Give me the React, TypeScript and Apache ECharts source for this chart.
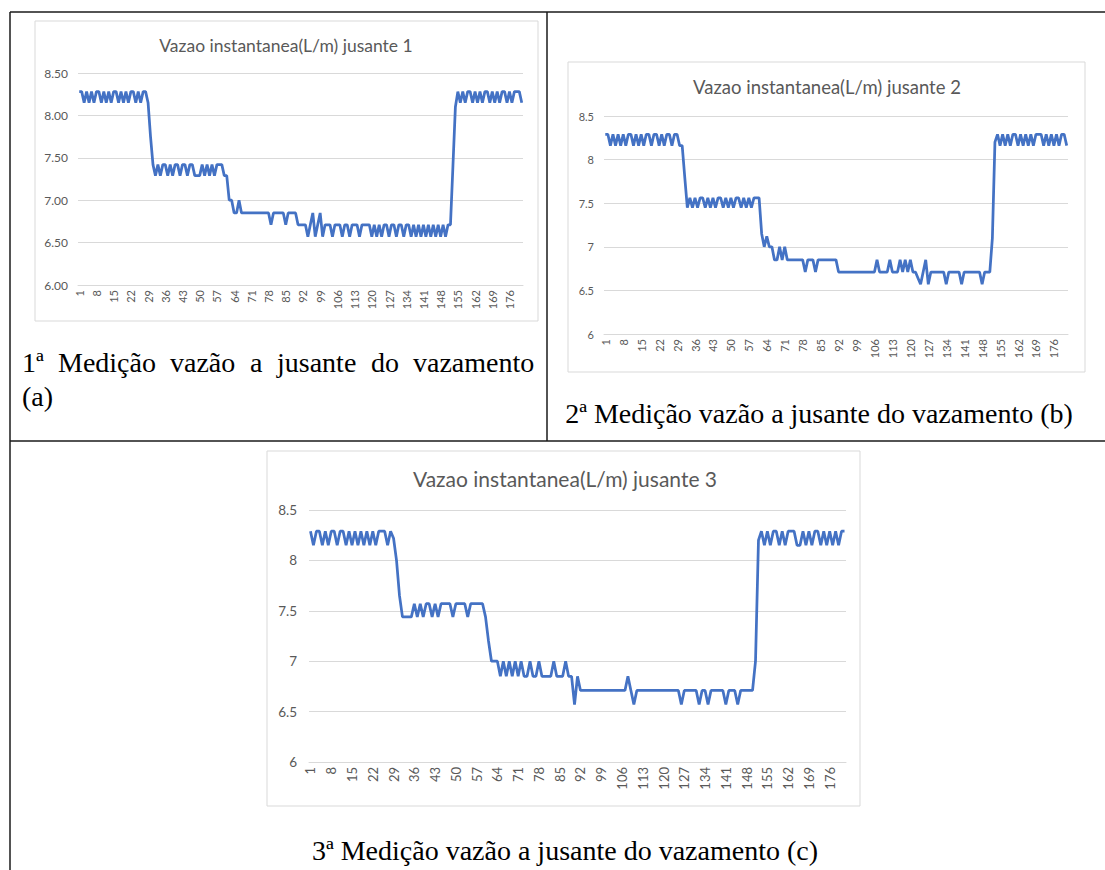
import React, { useEffect, useRef } from "react";
import * as echarts from "echarts";

// ---------- data ----------
const categories: string[] = Array.from({ length: 181 }, (_, i) => String(i + 1));

const yMin = 6;
const yMax = 8.5;
const yStep = 0.5;

const titles = [
  "Vazao instantanea(L/m) jusante 1",
  "Vazao instantanea(L/m) jusante 2",
  "Vazao instantanea(L/m) jusante 3",
];

const jusante1: number[] = [
  8.28, 8.28, 8.15, 8.28, 8.15, 8.28, 8.15, 8.28, 8.28, 8.15,
  8.28, 8.15, 8.28, 8.15, 8.28, 8.28, 8.15, 8.28, 8.15, 8.28,
  8.15, 8.28, 8.28, 8.15, 8.28, 8.15, 8.28, 8.28,
  8.15, 7.75, 7.42,
  7.29, 7.42, 7.29, 7.42, 7.42, 7.29, 7.42, 7.29, 7.42, 7.42,
  7.29, 7.42, 7.42, 7.29, 7.42, 7.42, 7.29, 7.29, 7.29, 7.42,
  7.29, 7.42, 7.29, 7.42, 7.29, 7.42, 7.42,
  7.42, 7.29, 7.29, 7.0, 7.0, 6.85, 6.85, 7.0, 6.85,
  6.85, 6.85, 6.85, 6.85, 6.85, 6.85, 6.85, 6.85, 6.85, 6.85, 6.85,
  6.71, 6.85, 6.85, 6.85, 6.85, 6.85, 6.71, 6.85, 6.85, 6.85, 6.85,
  6.71, 6.71, 6.71, 6.71, 6.57, 6.71, 6.85, 6.57, 6.71, 6.85, 6.57,
  6.71, 6.71, 6.71, 6.57, 6.71, 6.71, 6.71, 6.57, 6.71, 6.71,
  6.57, 6.71, 6.71, 6.71, 6.57, 6.71, 6.71, 6.71, 6.71, 6.57,
  6.71, 6.57, 6.71, 6.57, 6.71, 6.71, 6.57, 6.71, 6.71, 6.57,
  6.71, 6.71, 6.57, 6.71, 6.71, 6.57, 6.71, 6.57, 6.71, 6.57,
  6.71, 6.57, 6.71, 6.57, 6.71, 6.57, 6.71, 6.57, 6.71, 6.57,
  6.71, 6.71, 7.4, 8.1,
  8.28, 8.15, 8.28, 8.15, 8.28, 8.28, 8.15, 8.28, 8.15, 8.28,
  8.15, 8.28, 8.28, 8.15, 8.28, 8.15, 8.28, 8.15, 8.28, 8.28,
  8.15, 8.28, 8.15, 8.28, 8.28, 8.28, 8.15,
];

const jusante2: number[] = [
  8.29, 8.29, 8.16, 8.29, 8.16, 8.29, 8.16, 8.29, 8.16, 8.29,
  8.29, 8.16, 8.29, 8.16, 8.29, 8.16, 8.29, 8.29, 8.16, 8.29,
  8.29, 8.16, 8.29, 8.16, 8.29, 8.29, 8.16, 8.29, 8.29,
  8.16, 8.16, 7.8, 7.45,
  7.56, 7.45, 7.56, 7.45, 7.56, 7.56, 7.45, 7.56, 7.45, 7.56,
  7.45, 7.56, 7.56, 7.45, 7.56, 7.45, 7.56, 7.45, 7.56, 7.56,
  7.45, 7.56, 7.45, 7.56, 7.45, 7.56, 7.56,
  7.56, 7.15, 7.0, 7.12, 7.0, 7.0, 6.85, 6.85, 7.0, 6.85, 7.0, 6.85,
  6.85, 6.85, 6.85, 6.85, 6.85, 6.85,
  6.71, 6.85, 6.85, 6.85, 6.71,
  6.85, 6.85, 6.85, 6.85, 6.85, 6.85, 6.85, 6.85,
  6.71, 6.71, 6.71, 6.71, 6.71, 6.71, 6.71, 6.71, 6.71, 6.71,
  6.71, 6.71, 6.71, 6.71, 6.71,
  6.85, 6.71, 6.71, 6.71, 6.71, 6.85, 6.71, 6.71, 6.71, 6.85,
  6.71, 6.85, 6.71, 6.85, 6.71, 6.71, 6.64, 6.57, 6.71, 6.85,
  6.57, 6.71,
  6.71, 6.71, 6.71, 6.71, 6.71, 6.57,
  6.71, 6.71, 6.71, 6.71, 6.71, 6.57,
  6.71, 6.71, 6.71, 6.71, 6.71, 6.71, 6.71, 6.57,
  6.71, 6.71, 6.71, 7.1, 8.2, 8.29,
  8.16, 8.29, 8.16, 8.29, 8.16, 8.29, 8.29, 8.16, 8.29, 8.16,
  8.29, 8.16, 8.29, 8.16, 8.29, 8.29, 8.29, 8.16, 8.29, 8.16,
  8.29, 8.16, 8.29, 8.16, 8.29, 8.29, 8.16,
];

const jusante3: number[] = [
  8.29, 8.15, 8.29, 8.29, 8.15, 8.29, 8.15, 8.29, 8.29, 8.15,
  8.29, 8.29, 8.15, 8.29, 8.15, 8.29, 8.15, 8.29, 8.15, 8.29,
  8.15, 8.29, 8.15, 8.29, 8.29, 8.29, 8.15, 8.29,
  8.22, 8.0, 7.65, 7.44,
  7.44, 7.44, 7.44,
  7.57, 7.44, 7.57, 7.44, 7.57, 7.57, 7.44, 7.57, 7.44, 7.57,
  7.57, 7.57, 7.57, 7.44, 7.57, 7.57, 7.57, 7.57, 7.44, 7.57,
  7.57, 7.57, 7.57,
  7.57, 7.44, 7.2, 7.0, 7.0, 7.0,
  6.85, 7.0, 6.85, 7.0, 6.85, 7.0, 6.85, 7.0, 6.85, 6.85,
  7.0, 6.85, 6.85, 7.0, 6.85, 6.85, 6.85, 6.85, 7.0, 6.85,
  6.85, 6.85, 7.0, 6.85, 6.85,
  6.57, 6.85,
  6.71, 6.71, 6.71, 6.71, 6.71, 6.71, 6.71, 6.71, 6.71, 6.71,
  6.71, 6.71, 6.71, 6.71, 6.71, 6.71,
  6.85, 6.71, 6.57, 6.71,
  6.71, 6.71, 6.71, 6.71, 6.71, 6.71, 6.71, 6.71, 6.71, 6.71,
  6.71, 6.71, 6.71, 6.71,
  6.57, 6.71, 6.71, 6.71, 6.71, 6.71, 6.57, 6.71, 6.71, 6.57,
  6.71, 6.71, 6.71, 6.71, 6.71, 6.57, 6.71, 6.71, 6.71, 6.57,
  6.71, 6.71, 6.71, 6.71, 6.71,
  7.0, 8.2, 8.29,
  8.15, 8.29, 8.15, 8.29, 8.29, 8.15, 8.29, 8.15, 8.29, 8.29,
  8.29, 8.15, 8.15, 8.29, 8.15, 8.29, 8.15, 8.29, 8.29, 8.15,
  8.29, 8.15, 8.29, 8.15, 8.29, 8.15, 8.29, 8.29,
];

const seriesData = [jusante1, jusante2, jusante3];

// ---------- layout ----------
const FONT = "Lato, 'Open Sans', sans-serif";
const SERIF = "'Liberation Serif', 'DejaVu Serif', serif";
const GRAY = "#595959";
const GRID_COLOR = "#d9d9d9";
const LINE_COLOR = "#4472C4";

const grids = [
  { left: 78, top: 73, width: 445, height: 212 },
  { left: 604, top: 116, width: 464, height: 218 },
  { left: 309, top: 510, width: 537, height: 252 },
];
const boxes = [
  { x: 35, y: 21, width: 503, height: 300 },
  { x: 568, y: 62, width: 517, height: 310 },
  { x: 267, y: 451, width: 593, height: 355 },
];
const titlePos = [
  { x: 286, y: 45, size: 17.5 },
  { x: 827, y: 87, size: 18.5 },
  { x: 565, y: 478, size: 21 },
];
const xLabelSize = [11, 11, 13];
const yLabelSize = [12, 11, 13.5];
const yLabelMargin = [10, 10, 12];

export default function App() {
  const ref = useRef<HTMLDivElement>(null);

  useEffect(() => {
    if (!ref.current) return;
    const chart = echarts.init(ref.current, undefined, { renderer: "svg" });

    const graphics: any[] = [];
    boxes.forEach((b) => {
      graphics.push({
        type: "rect",
        z: -100,
        shape: { x: b.x, y: b.y, width: b.width, height: b.height },
        style: { fill: "#ffffff", stroke: GRID_COLOR, lineWidth: 1 },
      });
    });
    titlePos.forEach((t, i) => {
      graphics.push({
        type: "text",
        x: t.x,
        y: t.y,
        style: {
          text: titles[i],
          font: `${t.size}px ${FONT}`,
          fill: GRAY,
          align: "center",
          verticalAlign: "middle",
          textAlign: "center",
          textVerticalAlign: "middle",
        },
      });
    });
    const lines = [
      [10, 12, 1105, 12],
      [10, 12, 10, 870],
      [547, 12, 547, 441],
      [10, 441, 1105, 441],
    ];
    lines.forEach((l) => {
      graphics.push({
        type: "line",
        shape: { x1: l[0], y1: l[1], x2: l[2], y2: l[3] },
        style: { stroke: "#1a1a1a", lineWidth: 1.5 },
      });
    });
    const cap = (text: string, x: number, y: number, align = "left") => ({
      type: "text",
      x,
      y,
      style: {
        text,
        font: `28px ${SERIF}`,
        fill: "#000",
        align,
        verticalAlign: "middle",
        textAlign: align,
        textVerticalAlign: "middle",
      },
    });
    const cap1Words = ["1ª", "Medição", "vazão", "a", "jusante", "do", "vazamento"];
    const cap1X = [22, 58, 170, 250, 277, 371, 413];
    cap1Words.forEach((w, i) => graphics.push(cap(w, cap1X[i], 362)));
    graphics.push(cap("(a)", 22, 396));
    graphics.push(cap("2ª Medição vazão a jusante do vazamento (b)", 819, 413, "center"));
    graphics.push(cap("3ª Medição vazão a jusante do vazamento (c)", 565, 850, "center"));

    const option: any = {
      animation: false,
      backgroundColor: "#ffffff",
      grid: grids.map((g) => ({ ...g, containLabel: false })),
      xAxis: grids.map((_, i) => ({
        type: "category",
        gridIndex: i,
        data: categories,
        boundaryGap: true,
        axisLine: { show: true, lineStyle: { color: GRID_COLOR } },
        axisTick: { show: false },
        axisLabel: {
          interval: 6,
          rotate: 90,
          fontSize: xLabelSize[i],
          color: GRAY,
          fontFamily: FONT,
          margin: 5,
        },
        splitLine: { show: false },
      })),
      yAxis: grids.map((_, i) => ({
        type: "value",
        gridIndex: i,
        min: yMin,
        max: yMax,
        interval: yStep,
        axisLine: { show: false },
        axisTick: { show: false },
        splitLine: { lineStyle: { color: GRID_COLOR, width: 1 } },
        axisLabel: {
          fontSize: yLabelSize[i],
          color: GRAY,
          fontFamily: FONT,
          margin: yLabelMargin[i],
          formatter: i === 0 ? (v: number) => v.toFixed(2) : (v: number) => String(v),
        },
      })),
      series: seriesData.map((d, i) => ({
        type: "line",
        xAxisIndex: i,
        yAxisIndex: i,
        data: d,
        showSymbol: false,
        symbol: "none",
        lineStyle: { color: LINE_COLOR, width: 2.75 },
        itemStyle: { color: LINE_COLOR },
      })),
      graphic: { elements: graphics },
    };
    chart.setOption(option);
    return () => chart.dispose();
  }, []);

  return (
    <div
      ref={ref}
      style={{ position: "absolute", left: 0, top: 0, width: 1105, height: 870, background: "#fff" }}
    />
  );
}
